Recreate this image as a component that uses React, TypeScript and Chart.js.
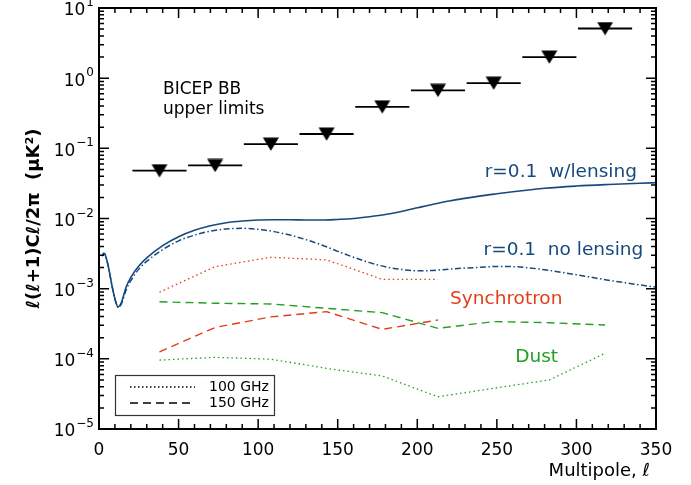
import React, { useEffect, useRef } from 'react';
import { Chart, registerables } from 'chart.js';
Chart.register(...registerables);

const FONT = '"DejaVu Sans", "Liberation Sans", sans-serif';
const BLUE = '#174a7c';
const RED = '#e23d18';
const GREEN = '#23a023';

// CMB BB model spectra, r = 0.1
const cmbEll = [2, 3, 4, 6, 8, 10, 12, 14, 17, 20, 25, 30, 40, 50, 60, 70, 80, 90, 100, 110, 120, 130, 140, 150, 160, 170, 180, 190, 200, 210, 220, 240, 250, 260, 270, 280, 300, 320, 340, 350];
const bbLensed = [2.9e-3, 3.2e-3, 3.0e-3, 2.0e-3, 1.15e-3, 7.2e-4, 5.5e-4, 6.3e-4, 1.05e-3, 1.45e-3, 2.1e-3, 2.75e-3, 4.1e-3, 5.5e-3, 6.8e-3, 7.9e-3, 8.7e-3, 9.2e-3, 9.5e-3, 9.6e-3, 9.6e-3, 9.5e-3, 9.5e-3, 9.7e-3, 1.0e-2, 1.06e-2, 1.14e-2, 1.26e-2, 1.42e-2, 1.6e-2, 1.78e-2, 2.1e-2, 2.25e-2, 2.4e-2, 2.55e-2, 2.7e-2, 2.9e-2, 3.05e-2, 3.18e-2, 3.24e-2];
const bbUnlensed = [2.9e-3, 3.2e-3, 3.0e-3, 2.0e-3, 1.15e-3, 7.1e-4, 5.4e-4, 6.0e-4, 9.5e-4, 1.3e-3, 1.9e-3, 2.45e-3, 3.6e-3, 4.8e-3, 5.8e-3, 6.6e-3, 7.1e-3, 7.25e-3, 7.0e-3, 6.5e-3, 5.8e-3, 5.0e-3, 4.2e-3, 3.4e-3, 2.8e-3, 2.35e-3, 2.05e-3, 1.88e-3, 1.8e-3, 1.82e-3, 1.9e-3, 2.02e-3, 2.07e-3, 2.06e-3, 1.98e-3, 1.86e-3, 1.58e-3, 1.32e-3, 1.13e-3, 1.05e-3];

// BICEP band powers (upper limits)
const bandCenters = [38, 73, 108, 143, 178, 213, 248, 283, 318];
const bandHalfWidth = 17;
const bicepLimits = [0.048, 0.057, 0.115, 0.16, 0.39, 0.67, 0.85, 2.0, 5.1];

// Foregrounds
const syncBands = [38, 73, 108, 143, 178, 213];
const sync100 = [8.9e-4, 2.06e-3, 2.8e-3, 2.57e-3, 1.36e-3, 1.36e-3];
const sync150 = [1.26e-4, 2.8e-4, 3.96e-4, 4.7e-4, 2.63e-4, 3.58e-4];
const dustBands = [38, 73, 108, 143, 178, 213, 248, 283, 318];
const dust100 = [9.6e-5, 1.05e-4, 9.9e-5, 7.3e-5, 5.7e-5, 2.88e-5, 3.8e-5, 5.0e-5, 1.2e-4];
const dust150 = [6.5e-4, 6.2e-4, 6.05e-4, 5.25e-4, 4.55e-4, 2.72e-4, 3.39e-4, 3.27e-4, 3.03e-4];

const xMajorTicks = [0, 50, 100, 150, 200, 250, 300, 350];
const yTickExps = [-5, -4, -3, -2, -1, 0, 1];

const pts = (xs: number[], ys: number[]) => xs.map((x, i) => ({ x, y: ys[i] }));

function makeTriangle(): HTMLCanvasElement {
  const c = document.createElement('canvas');
  c.width = 18; c.height = 14;
  const g = c.getContext('2d')!;
  g.fillStyle = '#000';
  g.beginPath();
  g.moveTo(1, 0.5); g.lineTo(17, 0.5); g.lineTo(9, 13.8); g.closePath();
  g.fill();
  return c;
}

const framePlugin = {
  id: 'frame',
  afterDraw(chart: any) {
    const { ctx, chartArea: a, scales } = chart;
    const xs = scales.x, ys = scales.y;
    ctx.save();
    // ticks
    ctx.strokeStyle = '#000';
    ctx.lineWidth = 1.5;
    ctx.beginPath();
    for (let v = 0; v <= 350; v += 10) {
      const px = xs.getPixelForValue(v);
      const len = v % 50 === 0 ? 10 : 5;
      ctx.moveTo(px, a.bottom); ctx.lineTo(px, a.bottom - len);
      ctx.moveTo(px, a.top); ctx.lineTo(px, a.top + len);
    }
    for (let e = -5; e <= 1; e++) {
      for (let m = 1; m <= 9; m++) {
        if (e === 1 && m > 1) break;
        const py = ys.getPixelForValue(m * Math.pow(10, e));
        const len = m === 1 ? 10 : 5;
        ctx.moveTo(a.left, py); ctx.lineTo(a.left + len, py);
        ctx.moveTo(a.right, py); ctx.lineTo(a.right - len, py);
      }
    }
    ctx.stroke();
    ctx.lineWidth = 2;
    ctx.strokeRect(a.left, a.top, a.right - a.left, a.bottom - a.top);

    // y tick labels: 10^e
    ctx.fillStyle = '#000';
    ctx.textBaseline = 'middle';
    yTickExps.forEach((e) => {
      const py = ys.getPixelForValue(Math.pow(10, e));
      const expStr = e < 0 ? '\u2212' + String(-e) : String(e);
      ctx.font = `12px ${FONT}`;
      const ew = ctx.measureText(expStr).width;
      const right = a.left - 5;
      ctx.textAlign = 'right';
      ctx.fillText(expStr, right, py - 5);
      ctx.font = `17px ${FONT}`;
      ctx.fillText('10', right - ew - 1, py + 3);
    });

    // x axis title
    ctx.font = `18px ${FONT}`;
    ctx.textAlign = 'right';
    ctx.textBaseline = 'middle';
    ctx.fillText('Multipole, \u2113', a.right - 6, 471);

    // annotations
    const txt = (s: string, x: number, y: number, color: string, align: CanvasTextAlign, size: number) => {
      ctx.font = `${size}px ${FONT}`;
      ctx.fillStyle = color;
      ctx.textAlign = align;
      ctx.textBaseline = 'middle';
      ctx.fillText(s, xs.getPixelForValue(x), ys.getPixelForValue(y));
    };
    txt('BICEP BB', 40.2, 0.678, '#000', 'left', 17);
    txt('upper limits', 40.2, 0.352, '#000', 'left', 17);
    txt('r=0.1  w/lensing', 338, 0.046, BLUE, 'right', 18.5);
    txt('r=0.1  no lensing', 342, 3.56e-3, BLUE, 'right', 18.5);
    txt('Synchrotron', 220.6, 7.1e-4, RED, 'left', 18.5);
    txt('Dust', 261.5, 1.06e-4, GREEN, 'left', 18.5);

    // legend box
    const bx = a.left + 16, bw = 159, bh = 40, by = a.bottom - 14 - bh;
    ctx.strokeStyle = '#333';
    ctx.lineWidth = 1.2;
    ctx.strokeRect(bx + 0.5, by + 0.5, bw, bh);
    ctx.strokeStyle = '#000';
    const rows = [{ label: '100 GHz', dash: [1.5, 2.5] }, { label: '150 GHz', dash: [8, 5] }];
    rows.forEach((r, i) => {
      const ry = by + 12 + i * 16;
      ctx.setLineDash(r.dash);
      ctx.lineWidth = 1.3;
      ctx.beginPath();
      ctx.moveTo(bx + 15, ry); ctx.lineTo(bx + 80, ry);
      ctx.stroke();
      ctx.setLineDash([]);
      ctx.font = `14px ${FONT}`;
      ctx.fillStyle = '#000';
      ctx.textAlign = 'left';
      ctx.textBaseline = 'middle';
      ctx.fillText(r.label, bx + 94, ry);
    });
    ctx.restore();
  },
};

export default function App() {
  const ref = useRef<HTMLCanvasElement>(null);
  useEffect(() => {
    const bars: any[] = [];
    bandCenters.forEach((c, i) => {
      bars.push({ x: c - bandHalfWidth, y: bicepLimits[i] });
      bars.push({ x: c + bandHalfWidth, y: bicepLimits[i] });
      bars.push({ x: c, y: null });
    });
    const tri = makeTriangle();
    const chart = new Chart(ref.current!, {
      type: 'line',
      data: {
        datasets: [
          { data: pts(cmbEll, bbLensed), borderColor: BLUE, borderWidth: 1.6, pointRadius: 0, cubicInterpolationMode: 'monotone' },
          { data: pts(cmbEll, bbUnlensed), borderColor: BLUE, borderWidth: 1.5, borderDash: [6, 2.5, 1.5, 2.5], pointRadius: 0, cubicInterpolationMode: 'monotone' },
          { data: pts(syncBands, sync100), borderColor: RED, borderWidth: 1.3, borderDash: [1.5, 3], pointRadius: 0, tension: 0 },
          { data: pts(syncBands, sync150), borderColor: RED, borderWidth: 1.4, borderDash: [8, 5], pointRadius: 0, tension: 0 },
          { data: pts(dustBands, dust100), borderColor: GREEN, borderWidth: 1.3, borderDash: [1.5, 3], pointRadius: 0, tension: 0 },
          { data: pts(dustBands, dust150), borderColor: GREEN, borderWidth: 1.4, borderDash: [8, 5], pointRadius: 0, tension: 0 },
          { data: bars, borderColor: '#000', borderWidth: 1.8, pointRadius: 0, spanGaps: false },
          { data: pts(bandCenters, bicepLimits), showLine: false, pointStyle: tri, pointRadius: 9, backgroundColor: '#000', borderColor: '#000' },
        ] as any,
      },
      options: {
        animation: false,
        responsive: true,
        maintainAspectRatio: false,
        devicePixelRatio: 1,
        layout: { padding: { left: 0, right: 35, top: 8, bottom: 0 }, autoPadding: false },
        plugins: { legend: { display: false }, tooltip: { enabled: false } },
        scales: {
          x: {
            type: 'linear', min: 0, max: 350,
            afterBuildTicks: (s: any) => { s.ticks = xMajorTicks.map((v) => ({ value: v })); },
            afterFit: (s: any) => { s.height = 56; },
            grid: { display: false, drawTicks: false },
            border: { display: false },
            ticks: { font: { family: FONT, size: 17 }, color: '#000', padding: 11, maxRotation: 0 },
          },
          y: {
            type: 'logarithmic', min: 1e-5, max: 10,
            afterFit: (s: any) => { s.width = 99; },
            grid: { display: false, drawTicks: false },
            border: { display: false },
            ticks: { display: false },
            title: { display: true, text: '\u2113(\u2113+1)C\u2113/2\u03c0  (\u03bcK\u00b2)', color: '#000', font: { family: FONT, size: 18, weight: 'bold' }, padding: { top: 24, bottom: 0 } },
          },
        },
      } as any,
      plugins: [framePlugin],
    });
    return () => chart.destroy();
  }, []);
  return (
    <div style={{ position: 'absolute', left: 0, top: 0, width: 691, height: 485 }}>
      <canvas ref={ref} />
    </div>
  );
}
